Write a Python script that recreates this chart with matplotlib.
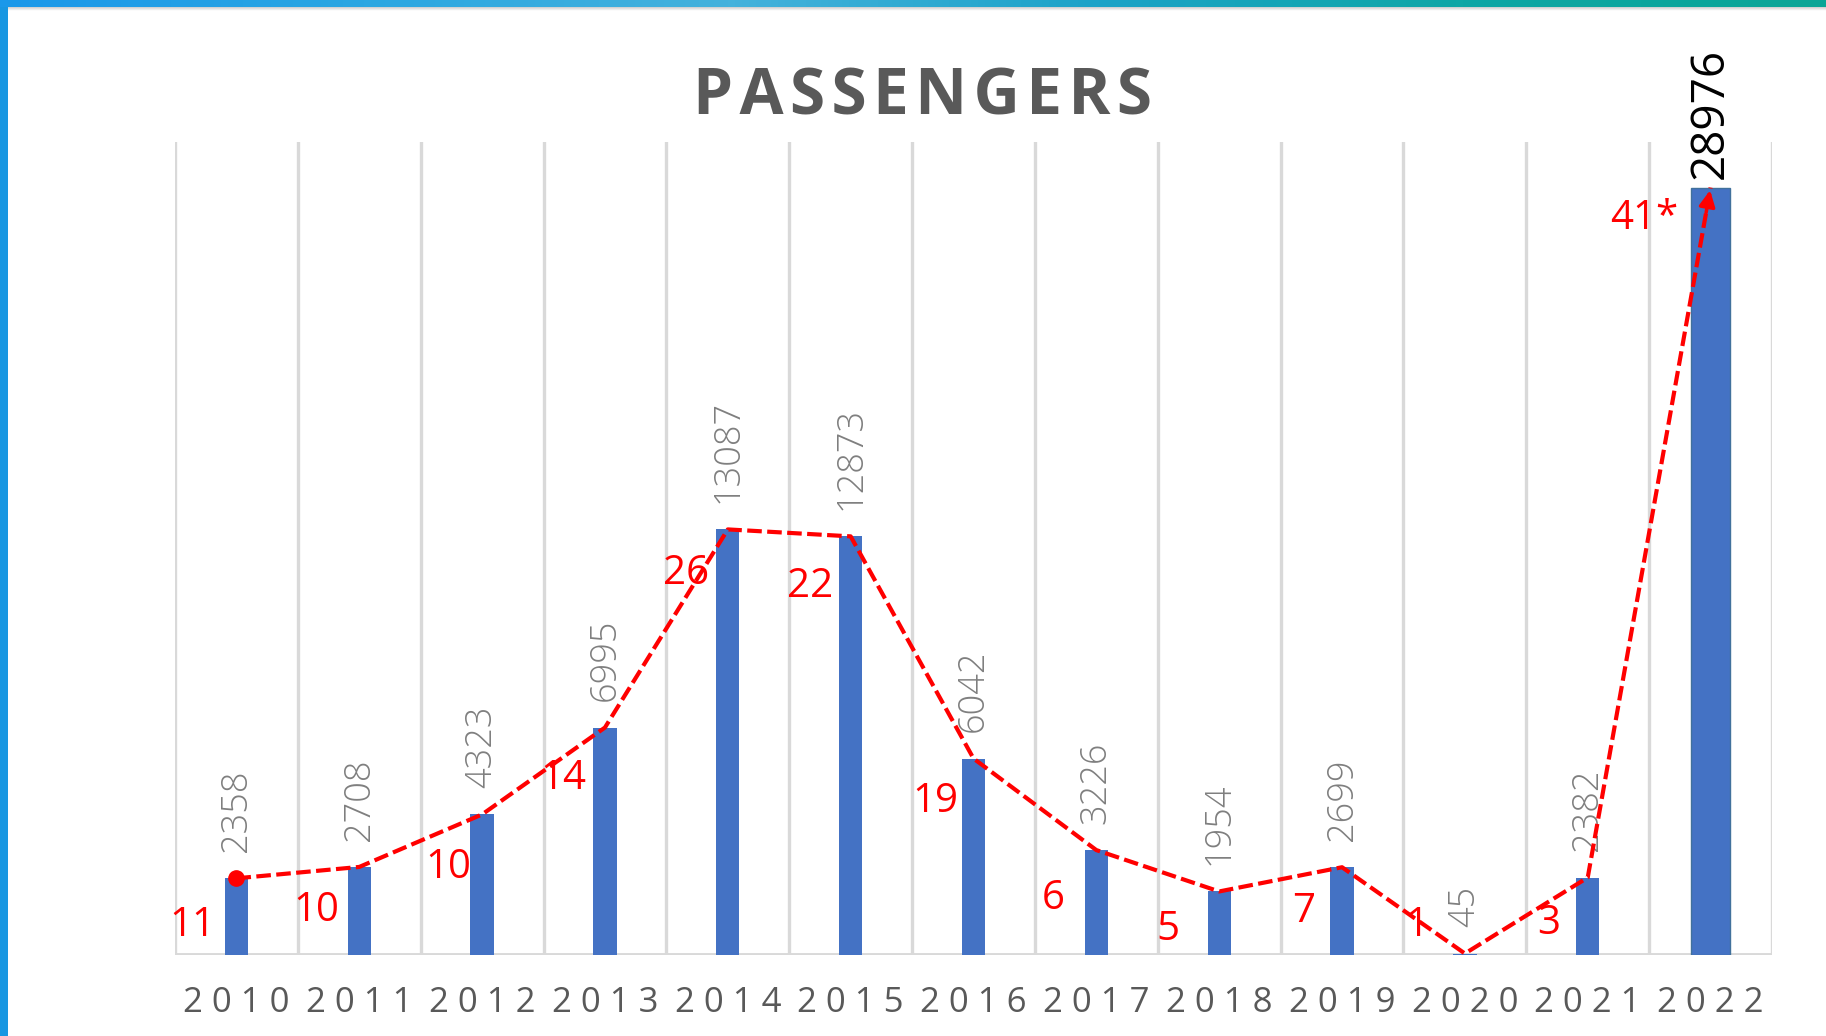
import matplotlib
matplotlib.use("Agg")
import matplotlib.pyplot as plt
from matplotlib.colors import LinearSegmentedColormap
import numpy as np

plt.rcParams['font.family'] = ['Open Sans', 'DejaVu Sans']

years = ['2010', '2011', '2012', '2013', '2014', '2015', '2016',
         '2017', '2018', '2019', '2020', '2021', '2022']
passengers = [2358, 2708, 4323, 6995, 13087, 12873, 6042,
              3226, 1954, 2699, 45, 2382, 28976]
growth = ['11', '10', '10', '14', '26', '22', '19', '6', '5', '7', '1', '3', '41*']

# where the red growth labels sit: (x offset from category, y in data units)
growth_pos = [(-0.36, 894), (-0.35, 1359), (-0.275, 2681), (-0.34, 5434),
              (-0.34, 11727), (-0.33, 11334), (-0.31, 4719), (-0.35, 1716),
              (-0.42, 787), (-0.31, 1323), (-0.39, 894), (-0.32, 965),
              (-0.54, 22631)]

axis_break = 23600   # last bar is cut short, the axis tops out at 25000
y_max = 25000

blue = '#4472C4'
red = '#FF0000'
grid_c = '#D9D9D9'

fig = plt.figure(figsize=(18.26, 10.36), dpi=100)
fig.patch.set_facecolor('white')

# decorative frame: gradient band on top, blue strip on the left
W, H = 1826, 1036
band = fig.add_axes([0, 1 - 7 / H, 1, 7 / H])
cmap = LinearSegmentedColormap.from_list('band', ['#1A98EA', '#2BA7E2', '#44B2DC',
                                                  '#1CA3C8', '#0FA7A6', '#0AA596'])
band.imshow(np.linspace(0, 1, 256)[None, :], aspect='auto', cmap=cmap)
band.axis('off')
shadow = fig.add_axes([8 / W, 1 - 11 / H, 1 - 8 / W, 4 / H])
shadow.imshow(np.linspace(0, 1, 8)[:, None], aspect='auto',
              cmap=LinearSegmentedColormap.from_list('sh', ['#CFCFCF', '#FFFFFF']))
shadow.axis('off')
strip = fig.add_axes([0, 0, 8 / W, 1 - 7 / H])
strip.set_facecolor('#1897E2')
strip.set_xticks([]); strip.set_yticks([])
for s in strip.spines.values():
    s.set_visible(False)

ax = fig.add_axes([175 / W, 81 / H, 1597 / W, 813 / H])
x = np.arange(len(years))
heights = np.minimum(passengers, axis_break)
widths = [0.19] * (len(years) - 1) + [0.32]

for b in np.arange(len(years) + 1) - 0.5:
    ax.axvline(b, color=grid_c, lw=2.4, zorder=0)
ax.axhline(0, color=grid_c, lw=2.8, zorder=1)

bars = ax.bar(x, heights, width=widths, color=blue, zorder=2)
bars[-1].set_edgecolor('#41719C')
bars[-1].set_linewidth(1.0)

for i, v in enumerate(passengers[:-1]):
    ax.annotate(str(v), (x[i], heights[i]), xytext=(0, 19), textcoords='offset points',
                rotation=90, ha='center', va='bottom', fontsize=26, color='#7F7F7F',
                fontweight='light')
ax.annotate(str(passengers[-1]), (x[-1], heights[-1]), xytext=(0, 6),
            textcoords='offset points', rotation=90, ha='center', va='bottom',
            fontsize=33, color='black', annotation_clip=False)

# growth line, dashed red with an arrow into the last bar
ax.plot(x, heights, ls=(0, (3.5, 1.3)), color=red, lw=3.0, zorder=3)
ax.plot(x[0], heights[0], 'o', color=red, ms=11, zorder=4)
p0 = np.array([x[-2], heights[-2]], dtype=float)
p1 = np.array([x[-1], heights[-1]], dtype=float)
ax.annotate('', xy=p1, xytext=p0 + 0.96 * (p1 - p0),
            arrowprops=dict(arrowstyle='-|>', color=red, lw=2.5, mutation_scale=24),
            zorder=4)

for i, (lab, (dx, yy)) in enumerate(zip(growth, growth_pos)):
    ax.text(x[i] + dx, yy, lab, color=red, fontsize=29, ha='center', va='center', zorder=5)

ax.set_xlim(-0.5, len(years) - 0.5)
ax.set_ylim(0, y_max)
ax.set_xticks(x)
ax.set_xticklabels([' '.join(y) for y in years], fontsize=25, color='#595959')
ax.tick_params(axis='x', length=0, pad=22)
ax.set_yticks([])
for s in ax.spines.values():
    s.set_visible(False)

fig.text(0.505, 1 - 98 / H, '\u200a'.join('PASSENGERS'), ha='center', va='center',
         fontsize=46, fontweight='bold', color='#595959')

fig.savefig('out.png', dpi=100)
